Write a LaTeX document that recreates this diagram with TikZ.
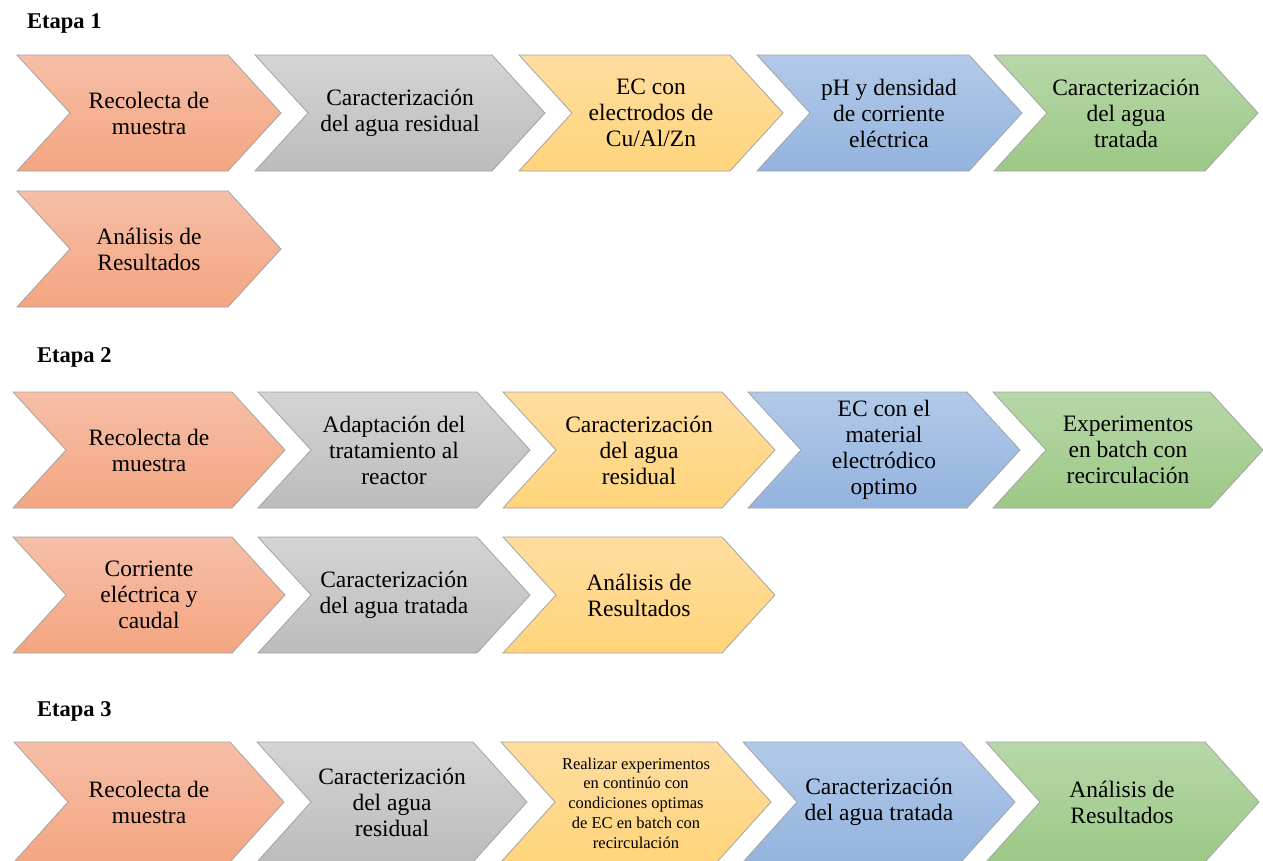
\documentclass[tikz,border=0pt]{standalone}
\usepackage{fontspec}
\setmainfont{Liberation Serif}
\newfontfamily\serifa{Liberation Serif}
\usepackage{tikz}
\usepackage{color}
\definecolor{borde}{HTML}{A3A3A3}
\definecolor{naranjaA}{HTML}{F6BFA7}
\definecolor{naranjaB}{HTML}{F4A581}
\definecolor{grisA}{HTML}{D4D4D4}
\definecolor{grisB}{HTML}{BCBCBC}
\definecolor{amarilloA}{HTML}{FFDD9F}
\definecolor{amarilloB}{HTML}{FFD47B}
\definecolor{azulA}{HTML}{B2CAE9}
\definecolor{azulB}{HTML}{93B3DE}
\definecolor{verdeA}{HTML}{B7D7A8}
\definecolor{verdeB}{HTML}{9CC986}

\begin{document}
\begin{tikzpicture}[x=1pt,y=-1pt]
              \tikzstyle{every node}+=[inner sep=0pt]
              \tikzstyle{paso}=[draw=borde,line width=0.8pt]
              \tikzstyle{naranja}=[paso,top color=naranjaA,bottom color=naranjaB]
              \tikzstyle{gris}=[paso,top color=grisA,bottom color=grisB]
              \tikzstyle{amarillo}=[paso,top color=amarilloA,bottom color=amarilloB]
              \tikzstyle{azul}=[paso,top color=azulA,bottom color=azulB]
              \tikzstyle{verde}=[paso,top color=verdeA,bottom color=verdeB]
              \tikzstyle{texto}=[align=center,font=\serifa\fontsize{23.5}{26}\selectfont]
              \tikzstyle{textochico}=[align=center,font=\serifa\fontsize{16.5}{19.7}\selectfont]
              \tikzstyle{etapa}=[anchor=base west,font=\serifa\fontsize{22.5}{26}\selectfont\bfseries]
              \useasboundingbox (0,0) rectangle (1263,860);
              % Etapa 1
              \node [etapa] (etapa1) at (27,28) {Etapa 1};
              \draw [naranja] (17,55) -- (228,55) -- (281,113) -- (228,171) -- (17,171) -- (70,113) -- cycle;
              \node [texto] (e1a) at (149,113) {Recolecta de\\muestra};
              \draw [gris] (255,55) -- (492,55) -- (545,113) -- (492,171) -- (255,171) -- (308,113) -- cycle;
              \node [texto] (e1b) at (400,113) {Caracterización\\del agua residual};
              \draw [amarillo] (519,55) -- (730,55) -- (783,113) -- (730,171) -- (519,171) -- (572,113) -- cycle;
              \node [texto] (e1c) at (651,113) {EC con\\electrodos de\\Cu/Al/Zn};
              \draw [azul] (757,55) -- (969,55) -- (1022,113) -- (969,171) -- (757,171) -- (810,113) -- cycle;
              \node [texto] (e1d) at (889,113) {pH y densidad\\de corriente\\eléctrica};
              \draw [verde] (994,55) -- (1205,55) -- (1258,113) -- (1205,171) -- (994,171) -- (1047,113) -- cycle;
              \node [texto] (e1e) at (1126,113) {Caracterización\\del agua\\tratada};
              \draw [naranja] (17,191) -- (228,191) -- (281,249) -- (228,307) -- (17,307) -- (70,249) -- cycle;
              \node [texto] (e1f) at (149,249) {Análisis de\\Resultados};
              % Etapa 2
              \node [etapa] (etapa2) at (37,362) {Etapa 2};
              \draw [naranja] (13,392) -- (232,392) -- (285,450) -- (232,508) -- (13,508) -- (66,450) -- cycle;
              \node [texto] (e2a) at (149,450) {Recolecta de\\muestra};
              \draw [gris] (258,392) -- (477,392) -- (530,450) -- (477,508) -- (258,508) -- (311,450) -- cycle;
              \node [texto] (e2b) at (394,450) {Adaptación del\\tratamiento al\\reactor};
              \draw [amarillo] (503,392) -- (722,392) -- (775,450) -- (722,508) -- (503,508) -- (556,450) -- cycle;
              \node [texto] (e2c) at (639,450) {Caracterización\\del agua\\residual};
              \draw [azul] (748,392) -- (967,392) -- (1020,450) -- (967,508) -- (748,508) -- (801,450) -- cycle;
              \node [texto] (e2d) at (884,450) {EC con el\\material\\electródico\\optimo};
              \draw [verde] (993,392) -- (1210,392) -- (1263,450) -- (1210,508) -- (993,508) -- (1046,450) -- cycle;
              \node [texto] (e2e) at (1128,450) {Experimentos\\en batch con\\recirculación};
              \draw [naranja] (13,537) -- (232,537) -- (285,595) -- (232,653) -- (13,653) -- (66,595) -- cycle;
              \node [texto] (e2f) at (149,595) {Corriente\\eléctrica y\\caudal};
              \draw [gris] (258,537) -- (477,537) -- (530,595) -- (477,653) -- (258,653) -- (311,595) -- cycle;
              \node [texto] (e2g) at (394,595) {Caracterización\\del agua tratada};
              \draw [amarillo] (503,537) -- (722,537) -- (775,595) -- (722,653) -- (503,653) -- (556,595) -- cycle;
              \node [texto] (e2h) at (639,595) {Análisis de\\Resultados};
              % Etapa 3
              \node [etapa] (etapa3) at (37,716) {Etapa 3};
              \draw [naranja] (14,742) -- (230,742) -- (284,802) -- (230,862) -- (14,862) -- (68,802) -- cycle;
              \node [texto] (e3a) at (149,802) {Recolecta de\\muestra};
              \draw [gris] (257,742) -- (473,742) -- (527,802) -- (473,862) -- (257,862) -- (311,802) -- cycle;
              \node [texto] (e3b) at (392,802) {Caracterización\\del agua\\residual};
              \draw [amarillo] (501,742) -- (717,742) -- (771,802) -- (717,862) -- (501,862) -- (555,802) -- cycle;
              \node [textochico] (e3c) at (636,803) {Realizar experimentos\\en continúo con\\condiciones optimas\\de EC en batch con\\recirculación};
              \draw [azul] (743,742) -- (961,742) -- (1015,802) -- (961,862) -- (743,862) -- (797,802) -- cycle;
              \node [texto] (e3d) at (879,802) {Caracterización\\del agua tratada};
              \draw [verde] (986,742) -- (1205,742) -- (1259,802) -- (1205,862) -- (986,862) -- (1040,802) -- cycle;
              \node [texto] (e3e) at (1122,802) {Análisis de\\Resultados};
            \end{tikzpicture}
\end{document}
